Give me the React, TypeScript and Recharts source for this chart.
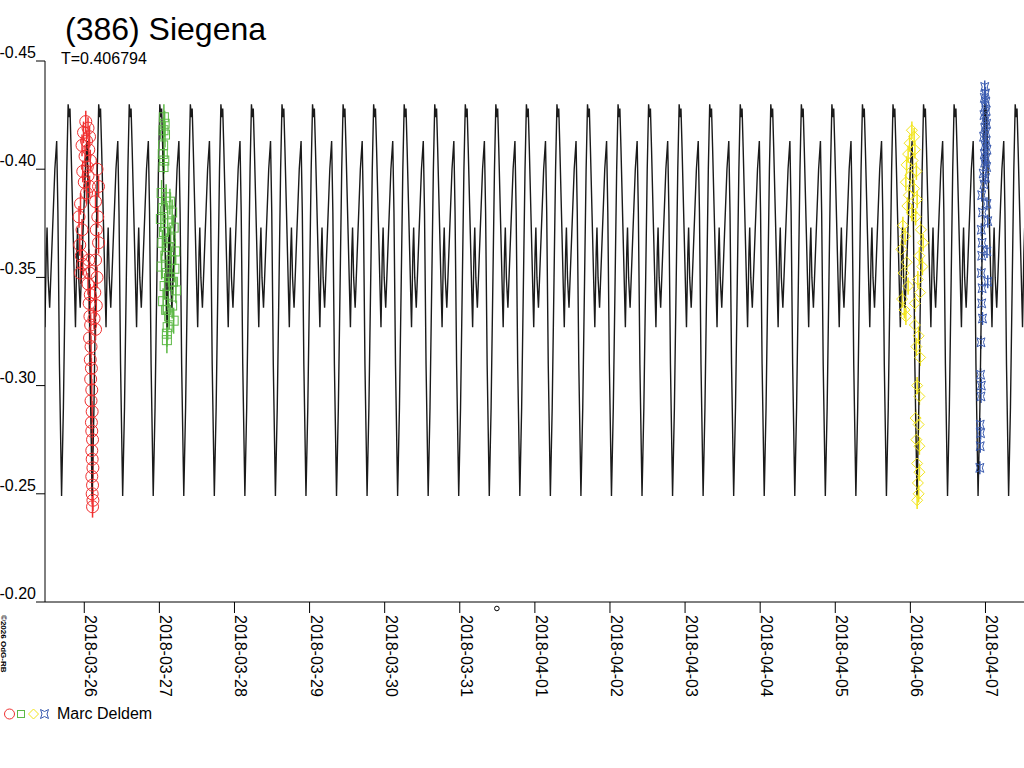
import * as React from "react";
import {
  ComposedChart,
  Line,
  Scatter,
  XAxis,
  YAxis,
  ErrorBar,
  ReferenceDot,
} from "recharts";

// time axis is in days after 2018-03-26 00:00
const DATE_LABELS = [
  "2018-03-26",
  "2018-03-27",
  "2018-03-28",
  "2018-03-29",
  "2018-03-30",
  "2018-03-31",
  "2018-04-01",
  "2018-04-02",
  "2018-04-03",
  "2018-04-04",
  "2018-04-05",
  "2018-04-06",
  "2018-04-07",
];
const DAY_TICKS = DATE_LABELS.map((_, i) => i);
const MAG_TICKS = [-0.45, -0.4, -0.35, -0.3, -0.25, -0.2];

// model light curve: one rotation, repeated with the period
const PERIOD = 0.406794;
const MIN_EPOCH = 0.1045; // a deep minimum
const SHAPE_PHASE = [
  0, 0.06, 0.12, 0.17, 0.215, 0.25, 0.275, 0.31, 0.38, 0.455, 0.5, 0.525,
  0.56, 0.61, 0.7, 0.78, 0.84, 0.88, 0.93,
];
const SHAPE_MAG = [
  -0.249, -0.29, -0.35, -0.4, -0.43, -0.424, -0.428, -0.41, -0.37, -0.327,
  -0.362, -0.373, -0.35, -0.336, -0.37, -0.4, -0.413, -0.38, -0.31,
];

// observations (Marc Deldem), four sessions
const RED_T = [
  0.02, 0.05, -0.01, 0.07, 0.03, -0.03, 0.06, 0.01, 0.08, 0.04, -0.02, 0.05,
  0.0, 0.07, 0.03, -0.05, -0.07, -0.03, -0.06, -0.04, -0.02, -0.05, 0.17,
  0.19, 0.15, 0.18, 0.16, 0.19, 0.15, 0.17, 0.14, 0.16, 0.13, 0.15, 0.06,
  0.07, 0.05, 0.08, 0.065, 0.075, 0.085, 0.07, 0.09, 0.08, 0.095, 0.085, 0.1,
  0.09, 0.105, 0.095, 0.1, 0.11, 0.1, 0.105, 0.115, 0.1, 0.11, 0.105, 0.115,
  0.11,
];
const RED_M = [
  -0.422, -0.419, -0.417, -0.415, -0.413, -0.411, -0.409, -0.406, -0.404,
  -0.401, -0.399, -0.397, -0.394, -0.392, -0.389, -0.384, -0.378, -0.372,
  -0.365, -0.36, -0.356, -0.352, -0.4, -0.392, -0.385, -0.378, -0.372, -0.366,
  -0.358, -0.35, -0.343, -0.337, -0.331, -0.326, -0.358, -0.352, -0.347,
  -0.342, -0.338, -0.332, -0.328, -0.322, -0.318, -0.312, -0.308, -0.303,
  -0.298, -0.293, -0.288, -0.283, -0.279, -0.275, -0.27, -0.266, -0.262,
  -0.258, -0.254, -0.25, -0.247, -0.244,
];
const RED_ERR = 0.005;

const GREEN_T = [
  1.06, 1.07, 1.055, 1.075, 1.05, 1.045, 1.065, 1.055, 1.03, 1.09, 1.14, 1.05,
  1.17, 1.02, 1.11, 1.19, 1.06, 1.15, 1.04, 1.12, 1.21, 1.08, 1.16, 1.03, 1.2,
  1.1, 1.14, 1.18, 1.07, 1.22, 1.12, 1.05, 1.17, 1.09, 1.13, 1.19, 1.11, 1.1,
  1.1,
];
const GREEN_M = [
  -0.424, -0.421, -0.418, -0.416, -0.411, -0.407, -0.404, -0.401, -0.389,
  -0.387, -0.385, -0.382, -0.38, -0.377, -0.375, -0.373, -0.371, -0.368,
  -0.366, -0.364, -0.362, -0.36, -0.358, -0.355, -0.354, -0.352, -0.35, -0.348,
  -0.346, -0.344, -0.342, -0.339, -0.337, -0.335, -0.332, -0.33, -0.327,
  -0.324, -0.321,
];
const GREEN_ERR = 0.006;

const YELLOW_T = [
  11.02, 11.05, 10.99, 11.06, 10.97, 11.03, 10.95, 11.08, 11.0, 10.94, 11.05,
  10.98, 11.09, 10.96, 11.02, 11.07, 10.9, 11.14, 10.93, 11.17, 10.88, 11.12,
  10.95, 11.16, 10.91, 11.1, 10.97, 11.13, 10.89, 11.06, 10.92, 10.94, 11.06,
  11.11, 11.08, 11.13, 11.09, 11.12, 11.07, 11.11, 11.08, 11.12, 11.09, 11.12,
  11.1, 11.11, 11.09,
];
const YELLOW_M = [
  -0.418, -0.415, -0.412, -0.409, -0.407, -0.404, -0.402, -0.399, -0.397,
  -0.394, -0.391, -0.388, -0.386, -0.383, -0.38, -0.378, -0.374, -0.372,
  -0.369, -0.366, -0.363, -0.36, -0.357, -0.355, -0.352, -0.349, -0.346,
  -0.343, -0.34, -0.338, -0.335, -0.332, -0.328, -0.323, -0.318, -0.313, -0.3,
  -0.295, -0.285, -0.282, -0.275, -0.272, -0.264, -0.26, -0.255, -0.25, -0.247,
];
const YELLOW_ERR = 0.004;

const BLUE_T = [
  11.99, 12.0, 11.985, 12.005, 11.995, 12.01, 11.98, 12.0, 12.015, 11.99,
  12.005, 11.975, 12.01, 11.995, 12.02, 11.985, 12.005, 11.99, 12.015, 11.97,
  12.0, 11.98, 11.95, 12.02, 11.96, 12.03, 11.945, 11.955, 12.02, 11.95,
  11.945, 12.03, 11.955, 11.95, 11.96, 11.94, 11.935, 11.945, 11.94, 11.93,
  11.935, 11.93, 11.925,
];
const BLUE_M = [
  -0.438, -0.435, -0.433, -0.431, -0.429, -0.427, -0.425, -0.423, -0.421,
  -0.419, -0.417, -0.415, -0.413, -0.411, -0.409, -0.407, -0.405, -0.403,
  -0.401, -0.398, -0.396, -0.393, -0.388, -0.384, -0.38, -0.376, -0.372,
  -0.366, -0.362, -0.36, -0.352, -0.348, -0.345, -0.338, -0.331, -0.32,
  -0.305, -0.3, -0.295, -0.282, -0.278, -0.272, -0.262,
];
const BLUE_ERR = 0.003;

const EPOCH_MARK = 5.494;

const FONT = "'Liberation Sans', Arial, sans-serif";
const RED = "#f03030";
const GREEN = "#5cb845";
const YELLOW = "#f2e51c";
const BLUE = "#3a5bb0";
const CURVE = "#1a1a1a";

const model: Array<{ t: number; m: number }> = [];
for (let n = -2; n < 32; n++) {
  SHAPE_PHASE.forEach((p, i) => {
    model.push({ t: MIN_EPOCH + (n + p) * PERIOD, m: SHAPE_MAG[i] });
  });
}

function toPoints(ts: number[], ms: number[], err: number) {
  return ts.map((t, i) => ({ t, m: ms[i], e: err }));
}

const redData = toPoints(RED_T, RED_M, RED_ERR);
const greenData = toPoints(GREEN_T, GREEN_M, GREEN_ERR);
const yellowData = toPoints(YELLOW_T, YELLOW_M, YELLOW_ERR);
const blueData = toPoints(BLUE_T, BLUE_M, BLUE_ERR);

const circleShape = (color: string) => (p: any) =>
  <circle cx={p.cx} cy={p.cy} r={6} fill="none" stroke={color} strokeWidth={1} />;
const squareShape = (color: string) => (p: any) =>
  <rect x={p.cx - 4.5} y={p.cy - 4.5} width={9} height={9} fill="none" stroke={color} strokeWidth={1} />;
const diamondShape = (color: string) => (p: any) =>
  <path d={`M${p.cx},${p.cy - 5.5}L${p.cx + 5.5},${p.cy}L${p.cx},${p.cy + 5.5}L${p.cx - 5.5},${p.cy}Z`} fill="none" stroke={color} strokeWidth={1} />;
const starPath = (cx: number, cy: number) =>
  `M${cx - 4},${cy - 4.5}L${cx},${cy - 2.5}L${cx + 4},${cy - 4.5}L${cx + 2.5},${cy}L${cx + 4},${cy + 4.5}L${cx},${cy + 2.5}L${cx - 4},${cy + 4.5}L${cx - 2.5},${cy}Z`;
const starShape = (color: string) => (p: any) =>
  <path d={starPath(p.cx, p.cy)} fill="none" stroke={color} strokeWidth={1} />;

function MagTick(props: any) {
  const { x, y, payload } = props;
  return (
    <text x={x} y={y - 3} textAnchor="end" fontSize={16} fontFamily={FONT} fill="#000">
      {payload.value.toFixed(2)}
    </text>
  );
}

function DateTick(props: any) {
  const { x, y, payload } = props;
  return (
    <text
      transform={`translate(${x + 1},${y + 2}) rotate(90)`}
      fontSize={16}
      fontFamily={FONT}
      fill="#000"
    >
      {DATE_LABELS[payload.value]}
    </text>
  );
}

export default function App() {
  return (
    <div style={{ position: "relative", width: 1024, height: 768, background: "#fff" }}>
      <style>{`body{margin:0}`}</style>
      <ComposedChart
        width={1024}
        height={768}
        margin={{ top: 61, right: 0, bottom: 0, left: 0 }}
      >
        <XAxis
          dataKey="t"
          type="number"
          domain={[-0.523, 12.513]}
          allowDataOverflow
          ticks={DAY_TICKS}
          interval={0}
          height={166}
          tickSize={11}
          tickMargin={0}
          tick={<DateTick />}
          axisLine={{ stroke: "#000" }}
          tickLine={{ stroke: "#000" }}
        />
        <YAxis
          dataKey="m"
          type="number"
          reversed
          domain={[-0.45, -0.2]}
          allowDataOverflow
          ticks={MAG_TICKS}
          interval={0}
          width={45}
          tickSize={9}
          tickMargin={0}
          tick={<MagTick />}
          axisLine={{ stroke: "#000" }}
          tickLine={{ stroke: "#000" }}
        />
        <Scatter data={redData} shape={circleShape(RED)} isAnimationActive={false}>
          <ErrorBar dataKey="e" direction="y" width={0} stroke={RED} isAnimationActive={false} />
        </Scatter>
        <Scatter data={greenData} shape={squareShape(GREEN)} isAnimationActive={false}>
          <ErrorBar dataKey="e" direction="y" width={0} stroke={GREEN} isAnimationActive={false} />
        </Scatter>
        <Scatter data={yellowData} shape={diamondShape(YELLOW)} isAnimationActive={false}>
          <ErrorBar dataKey="e" direction="y" width={0} stroke={YELLOW} isAnimationActive={false} />
        </Scatter>
        <Scatter data={blueData} shape={starShape(BLUE)} isAnimationActive={false}>
          <ErrorBar dataKey="e" direction="y" width={0} stroke={BLUE} isAnimationActive={false} />
        </Scatter>
        <Line
          data={model}
          dataKey="m"
          type="linear"
          stroke={CURVE}
          strokeWidth={1.4}
          dot={false}
          activeDot={false}
          isAnimationActive={false}
        />
        <ReferenceDot
          x={EPOCH_MARK}
          y={-0.197}
          r={2.3}
          fill="none"
          stroke="#000"
          ifOverflow="visible"
        />
      </ComposedChart>
      <svg
        width={1024}
        height={768}
        style={{ position: "absolute", left: 0, top: 0, pointerEvents: "none" }}
      >
        <text x={65} y={40} fontSize={32} fontFamily={FONT} fill="#000">
          (386) Siegena
        </text>
        <text x={61} y={64} fontSize={16} fontFamily={FONT} fill="#000">
          T=0.406794
        </text>
        <text
          transform="translate(1,615) rotate(90)"
          fontSize={8}
          fontWeight="bold"
          fontFamily={FONT}
          fill="#000"
        >
          ©2026 OdG-RB
        </text>
        <circle cx={9.5} cy={714} r={5} fill="none" stroke={RED} />
        <rect x={17.5} y={710.5} width={7} height={7} fill="none" stroke={GREEN} />
        <path d="M33.5,709L38.5,714L33.5,719L28.5,714Z" fill="none" stroke={YELLOW} />
        <path d={starPath(44.5, 714)} fill="none" stroke={BLUE} />
        <text x={57} y={719} fontSize={16} fontFamily={FONT} fill="#000">
          Marc Deldem
        </text>
      </svg>
    </div>
  );
}
